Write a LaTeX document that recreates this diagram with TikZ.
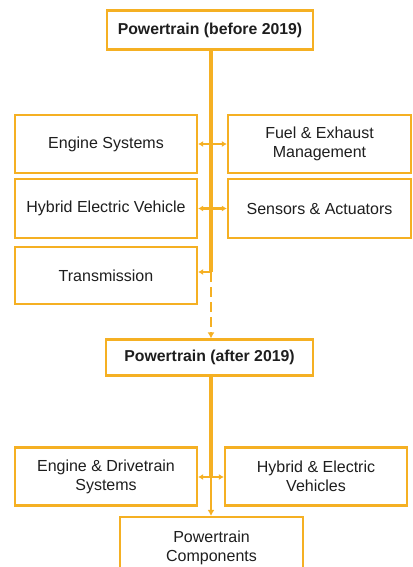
\documentclass[tikz,border=0pt]{standalone}
\usepackage{fontspec}
\setmainfont{Liberation Sans}
\usetikzlibrary{arrows.meta}
\definecolor{gold}{RGB}{245,176,35}
\definecolor{ink}{RGB}{30,30,30}
\tikzset{
  box/.style={draw=gold, line width=2.2pt, fill=white, inner sep=0pt, align=center, text=ink, font=\fontsize{16}{19}\selectfont},
  tbox/.style={box, font=\fontsize{15.8}{18}\selectfont\bfseries},
  trunk/.style={draw=gold, line width=3.4pt},
  link/.style={draw=gold, line width=2.2pt, -{Latex[length=5pt,width=6pt]}},
}
\begin{document}
\begin{tikzpicture}[x=1pt,y=-1pt]
\useasboundingbox (0,0) rectangle (412,567);
% nodes
\node[tbox, minimum width=206pt, minimum height=39pt] (top) at (210,30) {Powertrain (before 2019)};
\node[box, minimum width=182pt, minimum height=58pt] (es) at (106,144) {Engine Systems};
\node[box, minimum width=183pt, minimum height=58pt] (fe) at (319.5,144) {Fuel \& Exhaust\\Management};
\node[box, minimum width=182pt, minimum height=59pt] (hev) at (106,208.5) {Hybrid Electric Vehicle};
\node[box, minimum width=183pt, minimum height=59pt] (sa) at (319.5,208.5) {Sensors \& Actuators};
\node[box, minimum width=182pt, minimum height=57pt] (tr) at (106,275.5) {Transmission};
\node[tbox, minimum width=207pt, minimum height=36pt] (after) at (209.5,357.5) {Powertrain (after 2019)};
\node[box, minimum width=182pt, minimum height=58pt] (ed) at (106,476.5) {Engine \& Drivetrain\\Systems};
\node[box, minimum width=182pt, minimum height=58pt] (he) at (316,476.5) {Hybrid \& Electric\\Vehicles};
\node[box, minimum width=183pt, minimum height=62pt] (pc) at (211.5,548) {Powertrain\\Components};
% trunk coordinates
\coordinate (t0) at (top.south -| 211,0);
\coordinate (t1) at (211,144);
\coordinate (t2) at (211,208.5);
\coordinate (t3) at (211,272);
\coordinate (u0) at (after.south -| 211,0);
\coordinate (u1) at (211,477);
% trunk lines
\draw[trunk] (t0) -- (t3);
\draw[draw=gold, line width=2.6pt, dash pattern=on 10pt off 5pt, -{Latex[length=6pt,width=7pt]}] (t3) -- (after.north -| t3);
\draw[trunk] (u0) -- (u1);
\draw[draw=gold, line width=2.6pt, -{Latex[length=6pt,width=7pt]}] (u1) -- (pc.north -| u1);
% branches
\draw[link] (t1) -- (es.east |- t1);
\draw[link] (t1) -- (fe.west |- t1);
\draw[link] (t2) -- (hev.east |- t2);
\draw[link] (t2) -- (sa.west |- t2);
\draw[link] (t3) -- (tr.east |- t3);
\draw[link] (u1) -- (ed.east |- u1);
\draw[link] (u1) -- (he.west |- u1);
\end{tikzpicture}
\end{document}
